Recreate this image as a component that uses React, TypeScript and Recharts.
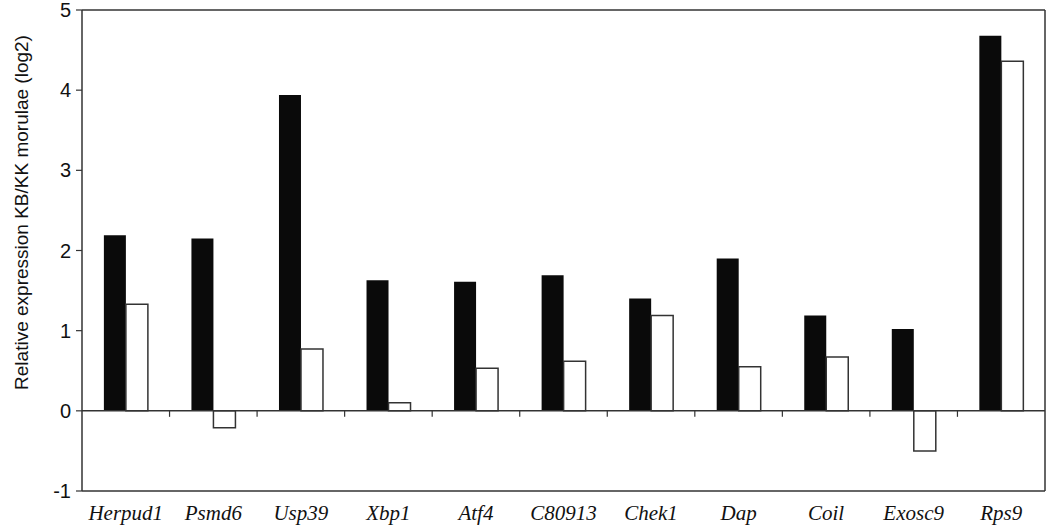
import React from 'react';
import { BarChart, Bar, XAxis, YAxis, ReferenceLine } from 'recharts';

const genes = ['Herpud1', 'Psmd6', 'Usp39', 'Xbp1', 'Atf4', 'C80913', 'Chek1', 'Dap', 'Coil', 'Exosc9', 'Rps9'];
const blackValues = [2.19, 2.15, 3.94, 1.63, 1.61, 1.69, 1.4, 1.9, 1.19, 1.02, 4.68];
const whiteValues = [1.33, -0.21, 0.77, 0.1, 0.53, 0.62, 1.19, 0.55, 0.67, -0.5, 4.36];
const yTicks = [-1, 0, 1, 2, 3, 4, 5];

const data = genes.map((gene, i) => ({ gene, black: blackValues[i], white: whiteValues[i] }));

const frame = '#333';

// zero line with small tick marks on the category boundaries
const ZeroLine = (props: any) => {
  const { x1, y1, x2, y2 } = props;
  const step = (x2 - x1) / genes.length;
  const ticks = genes.slice(1).map((_, i) => x1 + step * (i + 1));
  return (
    <g>
      <line x1={x1} y1={y1} x2={x2} y2={y2} stroke={frame} strokeWidth={1.5} />
      {ticks.map((x) => (
        <line key={x} x1={x} y1={y1} x2={x} y2={y1 + 6} stroke={frame} strokeWidth={1.2} />
      ))}
    </g>
  );
};

const YLabel = (props: any) => {
  const { viewBox } = props;
  const cx = 28;
  const cy = viewBox.y + viewBox.height / 2 - 38;
  return (
    <text
      x={cx}
      y={cy}
      transform={`rotate(-90, ${cx}, ${cy})`}
      textAnchor="middle"
      fontFamily="Liberation Sans, Arial, sans-serif"
      fontSize={19}
      fill="#111"
    >
      Relative expression KB/KK morulae (log2)
    </text>
  );
};

export default function App() {
  return (
    <div style={{ position: 'absolute', left: 0, top: 0, background: '#fff' }}>
      <BarChart
        width={1050}
        height={530}
        data={data}
        margin={{ top: 9, right: 4, bottom: 0, left: 0 }}
        barCategoryGap="25%"
        barGap={0}
      >
        <XAxis
          dataKey="gene"
          height={39}
          axisLine={{ stroke: frame, strokeWidth: 1.5 }}
          tickLine={false}
          tickSize={0}
          tickMargin={14}
          interval={0}
          tick={{ fontFamily: 'Liberation Serif, Times New Roman, serif', fontStyle: 'italic', fontSize: 21, fill: '#111' }}
        />
        <XAxis
          xAxisId="top"
          dataKey="gene"
          orientation="top"
          height={1}
          tick={false}
          tickLine={false}
          axisLine={{ stroke: frame, strokeWidth: 1.5 }}
        />
        <YAxis
          width={82}
          domain={[-1, 5]}
          ticks={yTicks}
          interval={0}
          axisLine={{ stroke: frame, strokeWidth: 1.5 }}
          tickLine={{ stroke: frame, strokeWidth: 1.2 }}
          tickSize={6}
          tickMargin={5}
          tick={{ fontFamily: 'Liberation Sans, Arial, sans-serif', fontSize: 20, fill: '#111' }}
          label={<YLabel />}
        />
        <YAxis
          yAxisId="right"
          orientation="right"
          width={1}
          domain={[-1, 5]}
          tick={false}
          tickLine={false}
          axisLine={{ stroke: frame, strokeWidth: 1.5 }}
        />
        <Bar dataKey="black" fill="#0a0a0a" isAnimationActive={false} />
        <Bar dataKey="white" fill="#ffffff" stroke={frame} strokeWidth={1.5} isAnimationActive={false} />
        <ReferenceLine y={0} shape={<ZeroLine />} />
      </BarChart>
    </div>
  );
}
